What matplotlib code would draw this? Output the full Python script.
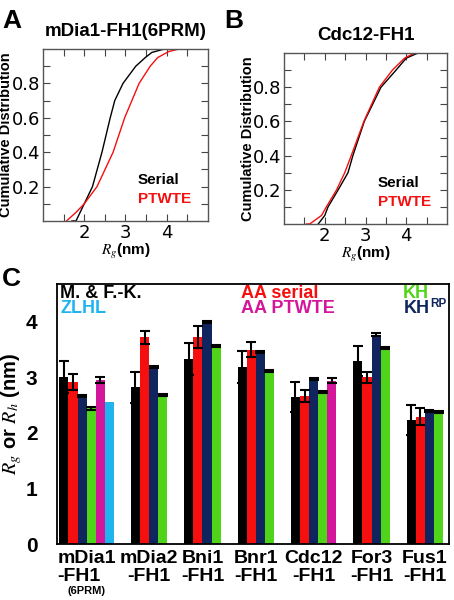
import numpy as np
import matplotlib
matplotlib.use("Agg")
import matplotlib.pyplot as plt

plt.rcParams['font.family'] = ['Liberation Sans', 'DejaVu Sans']
plt.rcParams['mathtext.fontset'] = 'stix'

# ---- panel A / B: cumulative distributions of Rg
a_serial_x = [1.70, 1.80, 2.00, 2.20, 2.43, 2.63, 2.74, 2.94, 3.25, 3.48, 3.64, 3.95, 4.45]
a_serial_y = [0.00, 0.00, 0.10, 0.20, 0.40, 0.60, 0.70, 0.80, 0.90, 0.95, 0.98, 1.00, 1.00]
a_ptwte_x = [1.57, 1.80, 2.00, 2.31, 2.70, 2.98, 3.33, 3.60, 3.78, 4.05, 4.30, 4.50]
a_ptwte_y = [0.00, 0.05, 0.10, 0.20, 0.40, 0.60, 0.80, 0.90, 0.95, 0.985, 1.00, 1.00]

b_serial_x = [1.84, 2.00, 2.08, 2.33, 2.57, 2.69, 2.97, 3.38, 3.75, 4.00, 4.29, 4.50]
b_serial_y = [0.00, 0.05, 0.10, 0.20, 0.30, 0.40, 0.60, 0.80, 0.90, 0.97, 1.00, 1.00]
b_ptwte_x = [1.55, 1.63, 1.92, 2.04, 2.29, 2.49, 2.65, 2.96, 3.34, 3.66, 3.96, 4.20, 4.50]
b_ptwte_y = [0.00, 0.00, 0.05, 0.10, 0.20, 0.30, 0.40, 0.60, 0.80, 0.90, 0.97, 1.00, 1.00]

# ---- panel C: Rg / Rh per construct
constructs = ['mDia1\n-FH1', 'mDia2\n-FH1', 'Bni1\n-FH1', 'Bnr1\n-FH1',
              'Cdc12\n-FH1', 'For3\n-FH1', 'Fus1\n-FH1']
mfk      = [3.01, 2.82, 3.33, 3.19, 2.64, 3.30, 2.23]
mfk_err  = [0.29, 0.28, 0.29, 0.29, 0.27, 0.27, 0.27]
aa_serial     = [2.92, 3.72, 3.72, 3.50, 2.67, 3.00, 2.29]
aa_serial_err = [0.14, 0.12, 0.20, 0.13, 0.11, 0.10, 0.15]
kh_rp     = [2.67, 3.19, 3.99, 3.45, 2.97, 3.77, 2.40]
kh_rp_err = [0.02, 0.02, 0.02, 0.02, 0.02, 0.02, 0.02]
kh     = [2.44, 2.68, 3.56, 3.12, 2.74, 3.53, 2.38]
kh_err = [0.02, 0.02, 0.02, 0.02, 0.02, 0.02, 0.02]
# AA PTWTE only for mDia1 and Cdc12, ZLHL only for mDia1
aa_ptwte     = [2.95, None, None, None, 2.94, None, None]
aa_ptwte_err = [0.05, None, None, None, 0.05, None, None]
zlhl = [2.55, None, None, None, None, None, None]

c_black = '#000000'
c_red = '#f50f0f'
c_navy = '#10245e'
c_green = '#4fd41a'
c_mag = '#d4169b'
c_cyan = '#1fb4ee'

fig = plt.figure(figsize=(4.54, 6.0), dpi=100)


def cdf_panel(rect, xs, title, letter, letter_x):
    ax = fig.add_axes(rect)
    ax.plot(xs[0], xs[1], color='black', lw=1.0)
    ax.plot(xs[2], xs[3], color=c_red, lw=1.0)
    ax.set_xlim(1.0, 5.0)
    ax.set_ylim(0, 1.0)
    ax.set_xticks([2, 3, 4])
    ax.set_xticks([1.5, 2.5, 3.5, 4.5], minor=True)
    ax.set_yticks([0.2, 0.4, 0.6, 0.8])
    ax.set_yticks([0.1, 0.3, 0.5, 0.7, 0.9], minor=True)
    ax.tick_params(which='both', direction='in', top=True, right=True,
                   length=5, width=0.8, color='#444444', labelsize=13, pad=2)
    for lab in ax.get_xticklabels() + ax.get_yticklabels():
        lab.set_family('DejaVu Sans')
    for s in ax.spines.values():
        s.set_color('#555555')
        s.set_linewidth(1.0)
    ax.set_title(title, fontsize=13.5, fontweight='bold', pad=9)
    ax.set_ylabel('Cumulative Distribution', fontsize=10.5, fontweight='bold')
    ax.yaxis.set_label_coords(-0.18, 0.5)
    ax.set_xlabel('$R_g$(nm)', fontsize=11, fontweight='bold', labelpad=0)
    ax.text(0.575, 0.24, 'Serial', transform=ax.transAxes, fontsize=11,
            fontweight='bold', color='black', va='center')
    ax.text(0.575, 0.13, 'PTWTE', transform=ax.transAxes, fontsize=11,
            fontweight='bold', color=c_red, va='center')
    fig.text(letter_x, 0.985, letter, fontsize=19, fontweight='bold', va='top')
    return ax


cdf_panel([0.0947, 0.6317, 0.3634, 0.2867],
          (a_serial_x, a_serial_y, a_ptwte_x, a_ptwte_y),
          'mDia1-FH1(6PRM)', 'A', 0.005)
cdf_panel([0.6256, 0.6267, 0.3590, 0.2850],
          (b_serial_x, b_serial_y, b_ptwte_x, b_ptwte_y),
          'Cdc12-FH1', 'B', 0.493)

# ---- panel C
axc = fig.add_axes([0.1256, 0.0933, 0.8634, 0.4333])
series = [(mfk, mfk_err, c_black), (aa_serial, aa_serial_err, c_red),
          (kh_rp, kh_rp_err, c_navy), (kh, kh_err, c_green),
          (aa_ptwte, aa_ptwte_err, c_mag), (zlhl, None, c_cyan)]
gap = 1.85
start = 0.0
centers = []
for i in range(len(constructs)):
    k = 0
    for vals, errs, col in series:
        if vals[i] is None:
            continue
        x = start + k + 0.5
        axc.bar(x, vals[i], width=1.0, color=col, edgecolor='none', zorder=2)
        if errs is not None and errs[i] is not None:
            axc.errorbar(x, vals[i], yerr=errs[i], fmt='none', ecolor='black',
                         elinewidth=1.5, capsize=3.5, capthick=1.5, zorder=3)
        k += 1
    centers.append(start + k / 2.0)
    start += k + gap

axc.set_xlim(-0.25, 42.75)
axc.set_ylim(0, 4.68)
axc.set_yticks([0, 1, 2, 3, 4])
axc.tick_params(axis='y', length=0, pad=14, labelsize=15)
axc.set_xticks(centers)
axc.set_xticklabels(constructs, fontsize=14, fontweight='bold', linespacing=1.1)
axc.tick_params(axis='x', length=0, pad=4)
for lab in axc.get_yticklabels():
    lab.set_fontweight('bold')
axc.get_xticklabels()[0].set_multialignment('left')
for s in axc.spines.values():
    s.set_linewidth(1.3)
axc.set_ylabel('$R_g$ or $R_h$ (nm)', fontsize=14.5, fontweight='bold')
axc.yaxis.set_label_coords(-0.084, 0.5)

axc.text(centers[0], -0.18, '(6PRM)', transform=axc.get_xaxis_transform(),
         fontsize=8, fontweight='bold', ha='center', va='center')
# coloured method labels
axc.text(0.008, 0.965, 'M. & F.-K.', transform=axc.transAxes, fontsize=13,
         fontweight='bold', color='black', va='center')
axc.text(0.008, 0.905, 'ZLHL', transform=axc.transAxes, fontsize=13,
         fontweight='bold', color=c_cyan, va='center')
axc.text(0.47, 0.965, 'AA serial', transform=axc.transAxes, fontsize=13,
         fontweight='bold', color=c_red, va='center')
axc.text(0.47, 0.905, 'AA PTWTE', transform=axc.transAxes, fontsize=13,
         fontweight='bold', color=c_mag, va='center')
axc.text(0.883, 0.965, 'KH', transform=axc.transAxes, fontsize=13,
         fontweight='bold', color=c_green, va='center', ha='left')
axc.text(0.993, 0.925, 'RP', transform=axc.transAxes, fontsize=8.5,
         fontweight='bold', color=c_navy, va='center', ha='right')
axc.annotate('KH', xy=(0.993, 0.905), xycoords='axes fraction',
             xytext=(-12, 0), textcoords='offset points', fontsize=13,
             fontweight='bold', color=c_navy, va='center', ha='right')
fig.text(0.005, 0.555, 'C', fontsize=19, fontweight='bold', va='top')

fig.savefig('out.png', dpi=100)
